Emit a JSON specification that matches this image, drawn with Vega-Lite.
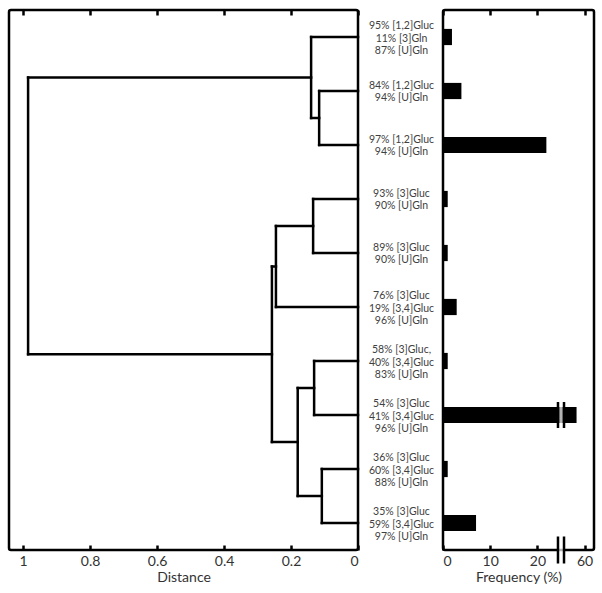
{
  "$schema": "https://vega.github.io/schema/vega-lite/v6.json",
  "padding": {"left": 7, "top": 7, "right": 0, "bottom": 0},
  "background": "white",
  "spacing": 85,
  "bounds": "flush",
  "config": {
    "font": "Lato",
    "view": {"stroke": "black", "strokeWidth": 2.5, "cornerRadius": 2},
    "axis": {
      "domain": false,
      "grid": false,
      "tickColor": "black",
      "tickWidth": 2.5,
      "tickSize": -5,
      "labelFont": "Lato",
      "labelFontSize": 14,
      "labelColor": "#333333",
      "titleFont": "Lato",
      "titleFontSize": 14,
      "titleFontWeight": "normal",
      "titleColor": "#333333"
    }
  },
  "datasets": {
    "segments": [
      {"x": 0, "x2": 0.14, "y": 0, "y2": 0},
      {"x": 0, "x2": 0.116, "y": 1, "y2": 1},
      {"x": 0, "x2": 0.116, "y": 2, "y2": 2},
      {"x": 0.116, "x2": 0.116, "y": 1, "y2": 2},
      {"x": 0.116, "x2": 0.14, "y": 1.5, "y2": 1.5},
      {"x": 0.14, "x2": 0.14, "y": 0, "y2": 1.5},
      {"x": 0.14, "x2": 0.985, "y": 0.75, "y2": 0.75},
      {"x": 0, "x2": 0.134, "y": 3, "y2": 3},
      {"x": 0, "x2": 0.134, "y": 4, "y2": 4},
      {"x": 0.134, "x2": 0.134, "y": 3, "y2": 4},
      {"x": 0.134, "x2": 0.245, "y": 3.5, "y2": 3.5},
      {"x": 0, "x2": 0.245, "y": 5, "y2": 5},
      {"x": 0.245, "x2": 0.245, "y": 3.5, "y2": 5},
      {"x": 0.245, "x2": 0.257, "y": 4.25, "y2": 4.25},
      {"x": 0, "x2": 0.131, "y": 6, "y2": 6},
      {"x": 0, "x2": 0.131, "y": 7, "y2": 7},
      {"x": 0.131, "x2": 0.131, "y": 6, "y2": 7},
      {"x": 0.131, "x2": 0.18, "y": 6.5, "y2": 6.5},
      {"x": 0, "x2": 0.108, "y": 8, "y2": 8},
      {"x": 0, "x2": 0.108, "y": 9, "y2": 9},
      {"x": 0.108, "x2": 0.108, "y": 8, "y2": 9},
      {"x": 0.108, "x2": 0.18, "y": 8.5, "y2": 8.5},
      {"x": 0.18, "x2": 0.18, "y": 6.5, "y2": 8.5},
      {"x": 0.18, "x2": 0.257, "y": 7.5, "y2": 7.5},
      {"x": 0.257, "x2": 0.257, "y": 4.25, "y2": 7.5},
      {"x": 0.257, "x2": 0.985, "y": 5.875, "y2": 5.875},
      {"x": 0.985, "x2": 0.985, "y": 0.75, "y2": 5.875}
    ],
    "freqs": [
      {"label": "95% [1,2]Gluc|11% [3]Gln|87% [U]Gln", "freq": 1.9},
      {"label": "84% [1,2]Gluc|94% [U]Gln", "freq": 3.9},
      {"label": "97% [1,2]Gluc|94% [U]Gln", "freq": 21.9},
      {"label": "93% [3]Gluc|90% [U]Gln", "freq": 1.0},
      {"label": "89% [3]Gluc|90% [U]Gln", "freq": 1.0},
      {"label": "76% [3]Gluc|19% [3,4]Gluc|96% [U]Gln", "freq": 2.9},
      {"label": "58% [3]Gluc,|40% [3,4]Gluc|83% [U]Gln", "freq": 1.0},
      {"label": "54% [3]Gluc|41% [3,4]Gluc|96% [U]Gln", "freq": 58.3},
      {"label": "36% [3]Gluc|60% [3,4]Gluc|88% [U]Gln", "freq": 1.0},
      {"label": "35% [3]Gluc|59% [3,4]Gluc|97% [U]Gln", "freq": 7.0}
    ]
  },
  "hconcat": [
    {
      "width": 349,
      "height": 540,
      "data": {"name": "segments"},
      "resolve": {"axis": {"x": "independent"}},
      "encoding": {
        "y": {"field": "y", "type": "quantitative", "scale": {"domain": [-0.5, 9.5], "reverse": true, "nice": false, "zero": false}, "axis": null},
        "y2": {"field": "y2"},
        "x2": {"field": "x2"}
      },
      "layer": [
        {
          "mark": {"type": "rule", "color": "black", "strokeWidth": 2.5, "strokeCap": "square"},
          "encoding": {
            "x": {"field": "x", "type": "quantitative", "scale": {"domain": [0, 1.042], "reverse": true, "nice": false, "zero": false},
              "axis": {"orient": "bottom", "values": [0, 0.2, 0.4, 0.6, 0.8, 1], "format": "~g", "title": "Distance", "labelPadding": 9, "titlePadding": 2}}
          }
        },
        {
          "mark": {"type": "rule", "strokeOpacity": 0},
          "encoding": {
            "x": {"field": "x", "type": "quantitative",
              "axis": {"orient": "top", "values": [0, 0.2, 0.4, 0.6, 0.8, 1], "labels": false, "title": null}}
          }
        }
      ]
    },
    {
      "width": 151,
      "height": 540,
      "data": {"name": "freqs"},
      "resolve": {"axis": {"x": "independent"}},
      "encoding": {
        "y": {"field": "label", "type": "nominal", "sort": null,
          "scale": {"paddingInner": 0, "paddingOuter": 0},
          "axis": {"labelExpr": "split(datum.label, '|')", "ticks": false, "labelAlign": "center", "labelBaseline": "middle",
            "labelOffset": {"condition": {"test": "length(split(datum.label, '|')) == 3", "value": -11}, "value": -5.5},
            "labelPadding": 42, "labelLineHeight": 12.5, "labelFontSize": 10.5, "labelColor": "#404040", "labelLimit": 0, "title": null}}
      },
      "layer": [
        {
          "mark": {"type": "bar", "color": "black", "height": {"band": 0.3}},
          "encoding": {
            "x": {"field": "freq", "type": "quantitative",
              "scale": {"domain": [0, 25, 55, 62], "range": [0, 118, 118, 151], "nice": false, "zero": false},
              "axis": {"orient": "bottom", "values": [0, 10, 20, 60], "title": "Frequency (%)", "labelPadding": 9, "titlePadding": 2}}
          }
        },
        {
          "mark": {"type": "rule", "strokeOpacity": 0},
          "encoding": {
            "x": {"field": "freq", "type": "quantitative",
              "axis": {"orient": "top", "values": [0, 10, 20, 60], "labels": false, "title": null}}
          }
        },
        {
          "transform": [{"filter": "datum.freq > 50"}],
          "mark": {"type": "tick", "color": "white", "size": 19, "thickness": 3.5},
          "encoding": {"x": {"datum": 40, "type": "quantitative", "axis": null}}
        },
        {
          "transform": [{"filter": "datum.freq > 50"}],
          "mark": {"type": "tick", "color": "black", "size": 26, "thickness": 2.5, "opacity": 1},
          "encoding": {"x": {"datum": 24.36, "type": "quantitative", "axis": null}}
        },
        {
          "transform": [{"filter": "datum.freq > 50"}],
          "mark": {"type": "tick", "color": "black", "size": 26, "thickness": 2.5, "opacity": 1},
          "encoding": {"x": {"datum": 55.64, "type": "quantitative", "axis": null}}
        },
        {
          "transform": [{"filter": "datum.freq == 7"}],
          "mark": {"type": "tick", "color": "white", "size": 6, "thickness": 4, "yOffset": 27},
          "encoding": {"x": {"datum": 40, "type": "quantitative", "axis": null}}
        },
        {
          "transform": [{"filter": "datum.freq == 7"}],
          "mark": {"type": "tick", "color": "black", "size": 27, "thickness": 2.5, "yOffset": 27, "opacity": 1},
          "encoding": {"x": {"datum": 24.36, "type": "quantitative", "axis": null}}
        },
        {
          "transform": [{"filter": "datum.freq == 7"}],
          "mark": {"type": "tick", "color": "black", "size": 27, "thickness": 2.5, "yOffset": 27, "opacity": 1},
          "encoding": {"x": {"datum": 55.64, "type": "quantitative", "axis": null}}
        }
      ]
    }
  ]
}
